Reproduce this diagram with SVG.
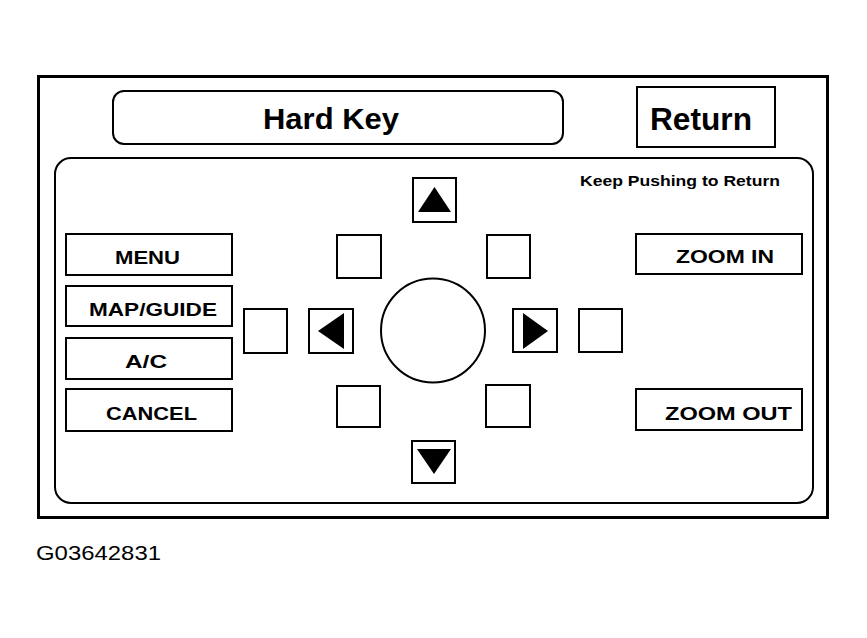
<svg xmlns="http://www.w3.org/2000/svg" width="867" height="638" viewBox="0 0 867 638">
<style>
.ln{fill:none;stroke:#000;stroke-width:2}
.bx{fill:#fff;stroke:#000;stroke-width:2}
.t{font-family:"Liberation Sans",Arial,sans-serif;font-weight:bold;fill:#000}
.tri{fill:#000}
</style>
<rect width="867" height="638" fill="#fff"/>
<rect id="frame" x="38.5" y="76.5" width="789" height="441" fill="none" stroke="#000" stroke-width="3"/>
<g id="hardkey">
<rect class="ln" x="113" y="91" width="450" height="53" rx="11"/>
<text class="t" x="331" y="129" font-size="30" text-anchor="middle" textLength="136" lengthAdjust="spacingAndGlyphs">Hard Key</text>
</g>
<g id="return">
<rect class="ln" x="637" y="87" width="138" height="60"/>
<text class="t" x="701" y="130" font-size="31" text-anchor="middle" textLength="102" lengthAdjust="spacingAndGlyphs">Return</text>
</g>
<g id="panel">
<rect class="ln" x="55" y="158" width="758" height="345" rx="16" stroke-width="2.5"/>
<text class="t" x="580" y="186" font-size="15.5" textLength="200" lengthAdjust="spacingAndGlyphs">Keep Pushing to Return</text>
</g>
<g id="menu"><rect class="bx" x="66" y="234" width="166" height="41"/><text class="t" x="147.5" y="264" font-size="19" text-anchor="middle" textLength="65" lengthAdjust="spacingAndGlyphs">MENU</text></g>
<g id="mapguide"><rect class="bx" x="66" y="286" width="166" height="40"/><text class="t" x="153" y="316" font-size="19" text-anchor="middle" textLength="128" lengthAdjust="spacingAndGlyphs">MAP/GUIDE</text></g>
<g id="ac"><rect class="bx" x="66" y="338" width="166" height="41"/><text class="t" x="146" y="368" font-size="19" text-anchor="middle" textLength="42" lengthAdjust="spacingAndGlyphs">A/C</text></g>
<g id="cancel"><rect class="bx" x="66" y="389" width="166" height="42"/><text class="t" x="151.5" y="420" font-size="19" text-anchor="middle" textLength="91" lengthAdjust="spacingAndGlyphs">CANCEL</text></g>
<g id="zoomin"><rect class="bx" x="636" y="234" width="166" height="40"/><text class="t" x="725" y="263" font-size="19" text-anchor="middle" textLength="98" lengthAdjust="spacingAndGlyphs">ZOOM IN</text></g>
<g id="zoomout"><rect class="bx" x="636" y="389" width="166" height="41"/><text class="t" x="728.5" y="420" font-size="19" text-anchor="middle" textLength="127" lengthAdjust="spacingAndGlyphs">ZOOM OUT</text></g>
<g id="up"><rect class="bx" x="413" y="178" width="43" height="44"/><polygon class="tri" points="418,212 434.5,187 451,212"/></g>
<g id="down"><rect class="bx" x="412" y="441" width="43" height="42"/><polygon class="tri" points="417,449 451,449 434,474"/></g>
<g id="left"><rect class="bx" x="309" y="309" width="44" height="44"/><polygon class="tri" points="318,331 344,313 344,349"/></g>
<g id="right"><rect class="bx" x="513" y="309" width="44" height="43"/><polygon class="tri" points="523,313 548,331 523,349"/></g>
<g id="sq-tl"><rect class="bx" x="337" y="235" width="44" height="43"/></g>
<g id="sq-tr"><rect class="bx" x="487" y="235" width="43" height="43"/></g>
<g id="sq-l"><rect class="bx" x="244" y="309" width="43" height="44"/></g>
<g id="sq-r"><rect class="bx" x="579" y="309" width="43" height="43"/></g>
<g id="sq-bl"><rect class="bx" x="337" y="386" width="43" height="41"/></g>
<g id="sq-br"><rect class="bx" x="486" y="385" width="44" height="42"/></g>
<g id="center"><circle class="bx" cx="433" cy="330.5" r="52"/></g>
<g id="connectors"></g>
<text x="36" y="560" font-family="Liberation Sans,Arial,sans-serif" font-size="21" textLength="125" lengthAdjust="spacingAndGlyphs">G03642831</text>
</svg>
